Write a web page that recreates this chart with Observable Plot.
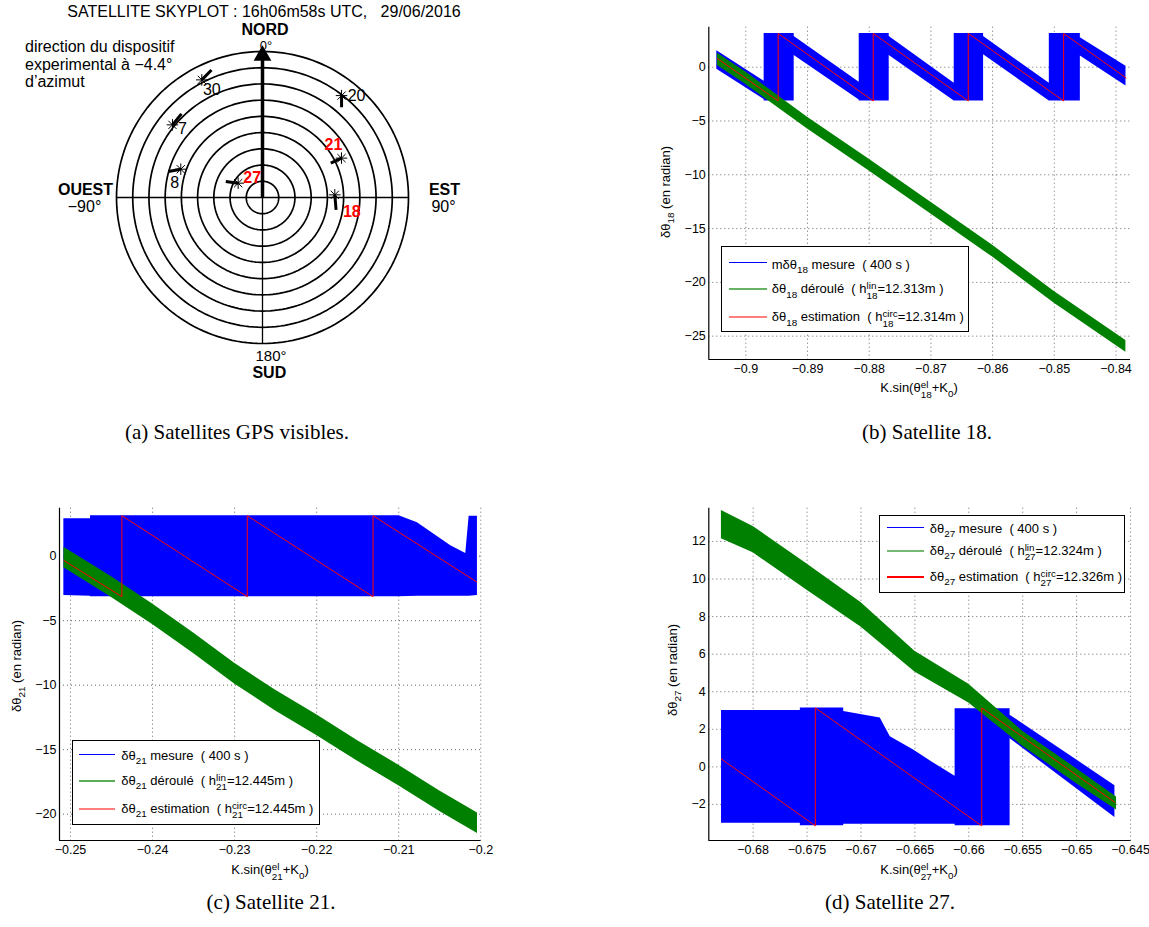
<!DOCTYPE html>
<html lang="fr">
<head>
<meta charset="utf-8">
<title>Satellites GPS visibles</title>
<script src="https://cdn.jsdelivr.net/npm/d3@7"></script>
<script src="https://cdn.jsdelivr.net/npm/@observablehq/plot@0.6"></script>
<style>
  html,body{margin:0;padding:0;background:#fff;}
  #fig{position:relative;width:1149px;height:927px;overflow:hidden;background:#fff;
       font-family:"Liberation Sans",Arial,Helvetica,sans-serif;color:#000;}
  #fig svg{position:absolute;max-width:none;}
  .txt{position:absolute;white-space:pre;line-height:1;font-size:16px;}
  .tight{line-height:0.8;}
  .b{font-weight:bold;}
  .cc{transform:translate(-50%,-50%);}
  .lc{transform:translate(0,-50%);}
  .cap{position:absolute;transform:translate(-50%,-50%);white-space:nowrap;line-height:1;
       font-family:"Liberation Serif","Times New Roman",serif;font-size:21px;}
  .ylab{position:absolute;white-space:nowrap;font-size:13px;line-height:1;transform:translate(-50%,-50%) rotate(-90deg);}
  .xlab{position:absolute;white-space:nowrap;font-size:13px;line-height:1;transform:translate(-50%,-50%);}
  .sb{font-size:0.76em;position:relative;top:0.42em;}
  .st{display:inline-block;vertical-align:middle;font-size:0.76em;line-height:0.92;text-align:left;position:relative;top:0.05em;}
  .st span{display:block;}
  .legend{position:absolute;background:#fff;border:1.5px solid #000;box-sizing:border-box;}
  .lrow{position:absolute;white-space:pre;font-size:13px;line-height:1;transform:translate(0,-50%);}
  .sw{position:absolute;}
</style>
</head>
<body>
<div id="fig"></div>
<script>
// ======================= DATA =======================
// ---- (a) Skyplot ----
const satIds = ["30", "20", "7", "8", "27", "21", "18"];
const satAz = [332.7, 37.8, 308.9, 289.1, 300.5, 63.5, 87.9];     // degrees
const satEl = [8.4, 10.5, 18.7, 36.7, 72.6, 35.6, 45.4];           // degrees
const tailAz = [338.2, 41.2, 315.9, 285.5, 293.6, 63.3, 99.5];
const tailEl = [5.3, 16.0, 18.2, 29.9, 65.3, 42.9, 44.0];
const satUsed = [false, false, false, false, true, true, true];
const ringElevations = [0, 10, 20, 30, 40, 50, 60, 70, 80];
const crossAzimuths = [0, 90];
const deviceAzimuth = 0;
const sideTexts = ["OUEST", "−90°", "EST", "90°"];
const sideBold = [true, false, true, false];

// ---- (b) Satellite 18 ----
const s18XTicks = [-0.9, -0.89, -0.88, -0.87, -0.86, -0.85, -0.84];
const s18XLabels = ["−0.9", "−0.89", "−0.88", "−0.87", "−0.86", "−0.85", "−0.84"];
const s18YTicks = [0, -5, -10, -15, -20, -25];
const s18YLabels = ["0", "−5", "−10", "−15", "−20", "−25"];
const s18MesX  = [-0.90470, -0.89703, -0.89703, -0.89216, -0.89216, -0.88162, -0.88162, -0.87676, -0.87676, -0.86622, -0.86622, -0.86146, -0.86146, -0.85081, -0.85081, -0.84578, -0.84578, -0.83838];
const s18MesLo = [-0.2, -3.0, -3.14, -3.14, 1.1, -3.05, -3.14, -3.14, 1.1, -3.14, -3.14, -3.14, 1.15, -3.14, -3.14, -3.14, 1.05, -1.75];
const s18MesHi = [1.54, -1.3, 3.14, 3.14, 2.85, -1.4, 3.14, 3.14, 2.85, -1.5, 3.14, 3.14, 2.85, -1.5, 3.14, 3.14, 2.75, 0.1];
const s18UnwX  = [-0.9046, -0.9, -0.89, -0.88, -0.87, -0.86, -0.85, -0.8384];
const s18UnwLo = [0.15, -1.6, -5.75, -9.65, -13.65, -17.65, -21.95, -26.5];
const s18UnwHi = [1.3, -0.45, -4.65, -8.55, -12.55, -16.55, -20.85, -25.4];
const s18EstX  = [-0.90459, -0.89476, -0.89476, -0.87935, -0.87935, -0.86395, -0.86395, -0.84849, -0.84849, -0.83838];
const s18EstY  = [0.80, -3.14, 3.14, -3.14, 3.14, -3.14, 3.14, -3.14, 3.14, -0.99];

// ---- (c) Satellite 21 ----
const s21XTicks = [-0.25, -0.24, -0.23, -0.22, -0.21, -0.2];
const s21XLabels = ["−0.25", "−0.24", "−0.23", "−0.22", "−0.21", "−0.2"];
const s21YTicks = [0, -5, -10, -15, -20];
const s21YLabels = ["0", "−5", "−10", "−15", "−20"];
const s21MesX  = [-0.25081, -0.24756, -0.24756, -0.20996, -0.20772, -0.20569, -0.20366, -0.20183, -0.20142, -0.20041];
const s21MesLo = [-3.05, -3.1, -3.14, -3.14, -3.1, -3.1, -3.1, -3.1, -3.1, -3.05];
const s21MesHi = [2.9, 2.9, 3.14, 3.14, 2.6, 1.7, 0.8, 0.2, 3.1, 3.1];
const s21UnwX  = [-0.2508, -0.245, -0.24, -0.235, -0.23, -0.225, -0.22, -0.215, -0.21, -0.205, -0.2004];
const s21UnwLo = [-0.9, -3.2, -5.3, -7.55, -9.9, -12.0, -13.9, -15.9, -17.8, -19.8, -21.5];
const s21UnwHi = [0.7, -1.6, -3.7, -5.95, -8.3, -10.4, -12.3, -14.3, -16.2, -18.2, -19.9];
const s21EstX  = [-0.25081, -0.24374, -0.24374, -0.22846, -0.22846, -0.21313, -0.21313, -0.20049];
const s21EstY  = [-0.33, -3.14, 3.14, -3.14, 3.14, -3.14, 3.14, -2.0];

// ---- (d) Satellite 27 ----
const s27XTicks = [-0.68, -0.675, -0.67, -0.665, -0.66, -0.655, -0.65, -0.645];
const s27XLabels = ["−0.68", "−0.675", "−0.67", "−0.665", "−0.66", "−0.655", "−0.65", "−0.645"];
const s27YTicks = [12, 10, 8, 6, 4, 2, 0, -2];
const s27YLabels = ["12", "10", "8", "6", "4", "2", "0", "−2"];
const s27MesX  = [-0.68293, -0.67562, -0.67562, -0.67160, -0.67160, -0.66821, -0.66728, -0.66512, -0.66327, -0.66127, -0.66127, -0.65617, -0.65617, -0.64645];
const s27MesLo = [-3.0, -3.0, -3.14, -3.14, -3.05, -3.05, -3.05, -3.05, -3.05, -3.05, -3.14, -3.14, 1.5, -2.7];
const s27MesHi = [3.0, 3.0, 3.14, 3.14, 2.95, 2.6, 1.6, 0.9, 0.2, -0.5, 3.1, 3.1, 2.75, -1.0];
const s27UnwX  = [-0.68294, -0.68, -0.675, -0.67, -0.665, -0.66, -0.655, -0.65, -0.6463];
const s27UnwLo = [12.15, 11.4, 9.4, 7.45, 5.05, 3.4, 1.1, -0.9, -2.3];
const s27UnwHi = [13.65, 12.8, 10.8, 8.75, 6.15, 4.4, 1.9, -0.1, -1.6];
const s27EstX  = [-0.68293, -0.67423, -0.67423, -0.65880, -0.65880, -0.64645];
const s27EstY  = [0.41, -3.14, 3.14, -3.14, 3.14, -1.89];

// ======================= LAYOUT / STYLE =======================
const FONT = '"Liberation Sans", Arial, Helvetica, sans-serif';
const BLUE = "#0000ff", GREEN = "#008000", RED = "#ff0000";
const fig = document.getElementById("fig");

function place(el, left, top) {
  el.style.left = left + "px"; el.style.top = top + "px"; fig.appendChild(el); return el;
}
function div(cls, html, left, top, extra) {
  const d = document.createElement("div");
  d.className = cls; d.innerHTML = html;
  if (extra) Object.assign(d.style, extra);
  return place(d, left, top);
}
const sub = s => `<span class="sb">${s}</span>`;
const stack = (sup, s) => `<span class="st"><span>${sup}</span><span>${s}</span></span>`;

// ======================= (a) SKYPLOT =======================
const rad = Math.PI / 180;
const polar = (az, el) => [(90 - el) * Math.sin(az * rad), (90 - el) * Math.cos(az * rad)];
const sats = satIds.map((id, i) => {
  const [x, y] = polar(satAz[i], satEl[i]);
  const [tx, ty] = polar(tailAz[i], tailEl[i]);
  return {id, x, y, tx, ty, used: satUsed[i]};
});
const ringPts = ringElevations.flatMap(el =>
  d3.range(0, 361, 2).map(a => { const [x, y] = polar(a, el); return {el, x, y}; }));
const crossLines = crossAzimuths.map(az => {
  const [x1, y1] = polar(az, 0), [x2, y2] = polar(az + 180, 0);
  return {x1, y1, x2, y2};
});
const [c0x, c0y] = polar(deviceAzimuth, 90);
const [ax, ay] = polar(deviceAzimuth, 0);
const arrowLine = [{x1: c0x, y1: c0y, x2: ax, y2: ay}];
// label anchor positions in skyplot units (layout only)
const sidePos = [[-109.1, 4.6], [-109.7, -5.9], [112.2, 4.6], [111.6, -5.9]];
const sides = sideTexts.map((t, i) => ({t, bold: sideBold[i], x: sidePos[i][0], y: sidePos[i][1]}));
const labelOffset = {"30": [10, 10], "20": [15, 0], "7": [10, 4], "8": [-6, 14], "27": [14, -5], "21": [-8, -13], "18": [17, 17]};

const sky = Plot.plot({
  width: 560, height: 420, margin: 0,
  style: {fontFamily: FONT, fontSize: "16px", background: "transparent", color: "#000"},
  x: {domain: [-90, 90], range: [116, 408], axis: null},
  y: {domain: [-90, 90], range: [343, 51], axis: null},
  marks: [
    Plot.line(ringPts, {x: "x", y: "y", z: "el", stroke: "#000", strokeWidth: 1.7}),
    Plot.link(crossLines, {x1: "x1", y1: "y1", x2: "x2", y2: "y2", stroke: "#000", strokeWidth: 1.3}),
    Plot.link(arrowLine, {x1: "x1", y1: "y1", x2: "x2", y2: "y2", stroke: "#000", strokeWidth: 3.5}),
    Plot.dot([{x: ax, y: ay}], {x: "x", y: "y", symbol: "triangle", r: 6.6, fill: "#000", stroke: "none", dy: 4}),
    Plot.link(sats, {x1: "x", y1: "y", x2: "tx", y2: "ty", stroke: "#000", strokeWidth: 3}),
    Plot.dot(sats, {x: "x", y: "y", symbol: "plus", r: 3.8, stroke: "#000", strokeWidth: 1}),
    Plot.dot(sats, {x: "x", y: "y", symbol: "times", r: 3.8, stroke: "#000", strokeWidth: 1}),
    ...sats.map(s => Plot.text([s], {
      x: "x", y: "y", text: "id", dx: labelOffset[s.id][0], dy: labelOffset[s.id][1],
      fill: s.used ? RED : "#000", fontWeight: s.used ? "bold" : "normal", fontSize: 16
    })),
    Plot.text(sides.filter(d => d.bold), {x: "x", y: "y", text: "t", fontWeight: "bold", fontSize: 16, fill: "#000"}),
    Plot.text(sides.filter(d => !d.bold), {x: "x", y: "y", text: "t", fontSize: 16, fill: "#000"})
  ]
});
place(sky, 0, 0);

div("txt tight cc", "SATELLITE SKYPLOT : 16h06m58s UTC,   29/06/2016", 264, 11.5);
div("txt tight cc b", "NORD", 265, 29.5);
div("txt tight cc", "0°", 266, 46, {fontSize: "13px"});
div("txt tight cc", "180°", 271, 355.5, {fontSize: "15px"});
div("txt tight cc b", "SUD", 269.3, 373);
div("txt lc", "direction du dispositif", 25, 47);
div("txt lc", "experimental à −4.4°", 25, 65);
div("txt lc", "d’azimut", 25, 82);

// ======================= PHASE PANELS =======================
function phasePanel(p) {
  const mes = p.mesX.map((x, i) => ({x, lo: p.mesLo[i], hi: p.mesHi[i]}));
  const unw = p.unwX.map((x, i) => ({x, lo: p.unwLo[i], hi: p.unwHi[i]}));
  const est = p.estX.map((x, i) => ({x, y: p.estY[i]}));
  const xl = new Map(p.xTicks.map((t, i) => [t, p.xLabels[i]]));
  const yl = new Map(p.yTicks.map((t, i) => [t, p.yLabels[i]]));
  const grid = {stroke: "#000", strokeOpacity: 0.6, strokeWidth: 1, strokeDasharray: "1,3"};
  return Plot.plot({
    width: p.width, height: p.height,
    marginLeft: p.ml, marginRight: p.mr, marginTop: p.mt, marginBottom: p.mb,
    style: {fontFamily: FONT, fontSize: "12.5px", background: "transparent", color: "#000", overflow: "visible"},
    x: {domain: p.xDomain},
    y: {domain: p.yDomain},
    marks: [
      Plot.gridX(p.xTicks, grid),
      Plot.gridY(p.yTicks, grid),
      Plot.areaY(mes, {x: "x", y1: "lo", y2: "hi", fill: BLUE}),
      Plot.areaY(unw, {x: "x", y1: "lo", y2: "hi", fill: GREEN}),
      Plot.line(est, {x: "x", y: "y", stroke: RED, strokeWidth: 1}),
      Plot.ruleX([p.xDomain[0]], {stroke: "#000", strokeWidth: 1.2}),
      Plot.ruleY([p.yDomain[0]], {stroke: "#000", strokeWidth: 1.2}),
      Plot.axisX(p.xTicks, {tickSize: 0, tickPadding: 5, label: null, tickFormat: d => xl.get(d)}),
      Plot.axisY(p.yTicks, {tickSize: 0, tickPadding: 3, label: null, tickFormat: d => yl.get(d)})
    ]
  });
}

function legend(box, rows, colors, opac) {
  const L = document.createElement("div");
  L.className = "legend";
  Object.assign(L.style, {width: box.w + "px", height: box.h + "px"});
  rows.forEach((html, i) => {
    const sw = document.createElement("div");
    sw.className = "sw";
    const th = i === 0 ? 1 : 2;
    Object.assign(sw.style, {left: Math.round(box.sx0) + "px", width: Math.round(box.sx1 - box.sx0) + "px",
      top: Math.round(box.rowY[i] - th / 2) + "px", height: th + "px", background: colors[i], opacity: opac[i]});
    L.appendChild(sw);
    const t = document.createElement("div");
    t.className = "lrow"; t.innerHTML = html;
    Object.assign(t.style, {left: box.tx + "px", top: (box.rowY[i] + 1) + "px"});
    L.appendChild(t);
  });
  return place(L, box.left, box.top);
}

// ---- (b) ----
const pb = phasePanel({
  width: 509, height: 400, ml: 68.3, mr: 19, mt: 26.7, mb: 41,
  xDomain: [-0.9060, -0.83765], yDomain: [-27.17, 3.72],
  xTicks: s18XTicks, xLabels: s18XLabels, yTicks: s18YTicks, yLabels: s18YLabels,
  mesX: s18MesX, mesLo: s18MesLo, mesHi: s18MesHi,
  unwX: s18UnwX, unwLo: s18UnwLo, unwHi: s18UnwHi,
  estX: s18EstX, estY: s18EstY
});
place(pb, 640, 0);
div("ylab", `δθ${sub("18")} (en radian)`, 665, 192);
div("xlab", `K.sin(θ${stack("el", "18")}+K${sub("0")})`, 919, 389);
legend({left: 720.7, top: 246, w: 248, h: 86, sx0: 6.5, sx1: 44, tx: 50, rowY: [15.5, 42, 70]}, [
  `mδθ${sub("18")} mesure  ( 400 s )`,
  `δθ${sub("18")} déroulé  ( h${stack("lin", "18")}=12.313m )`,
  `δθ${sub("18")} estimation  ( h${stack("circ", "18")}=12.314m )`
], [BLUE, GREEN, RED], [1, 0.6, 0.5]);

// ---- (c) ----
const pc = phasePanel({
  width: 500, height: 420, ml: 59, mr: 19.3, mt: 37.7, mb: 50,
  xDomain: [-0.25134, -0.19995], yDomain: [-22.04, 3.72],
  xTicks: s21XTicks, xLabels: s21XLabels, yTicks: s21YTicks, yLabels: s21YLabels,
  mesX: s21MesX, mesLo: s21MesLo, mesHi: s21MesHi,
  unwX: s21UnwX, unwLo: s21UnwLo, unwHi: s21UnwHi,
  estX: s21EstX, estY: s21EstY
});
place(pc, 0, 470);
div("ylab", `δθ${sub("21")} (en radian)`, 15.5, 666);
div("xlab", `K.sin(θ${stack("el", "21")}+K${sub("0")})`, 270, 871);
legend({left: 71.7, top: 740, w: 248, h: 85, sx0: 6, sx1: 41.5, tx: 48.5, rowY: [13, 39.5, 67.5]}, [
  `δθ${sub("21")} mesure  ( 400 s )`,
  `δθ${sub("21")} déroulé  ( h${stack("lin", "21")}=12.445m )`,
  `δθ${sub("21")} estimation  ( h${stack("circ", "21")}=12.445m )`
], [BLUE, GREEN, RED], [1, 0.65, 0.5]);

// ---- (d) ----
const pd = phasePanel({
  width: 509, height: 420, ml: 68.3, mr: 18.3, mt: 37.7, mb: 50,
  xDomain: [-0.68411, -0.64494], yDomain: [-3.92, 13.77],
  xTicks: s27XTicks, xLabels: s27XLabels, yTicks: s27YTicks, yLabels: s27YLabels,
  mesX: s27MesX, mesLo: s27MesLo, mesHi: s27MesHi,
  unwX: s27UnwX, unwLo: s27UnwLo, unwHi: s27UnwHi,
  estX: s27EstX, estY: s27EstY
});
place(pd, 640, 470);
div("ylab", `δθ${sub("27")} (en radian)`, 672, 670);
div("xlab", `K.sin(θ${stack("el", "27")}+K${sub("0")})`, 919, 871);
legend({left: 879.3, top: 515, w: 246, h: 78, sx0: 6.5, sx1: 43.5, tx: 49.5, rowY: [11, 34.5, 60.5]}, [
  `δθ${sub("27")} mesure  ( 400 s )`,
  `δθ${sub("27")} déroulé  ( h${stack("lin", "27")}=12.324m )`,
  `δθ${sub("27")} estimation  ( h${stack("circ", "27")}=12.326m )`
], [BLUE, GREEN, RED], [1, 0.55, 1]);

// ======================= CAPTIONS =======================
div("cap", "(a) Satellites GPS visibles.", 237, 432);
div("cap", "(b) Satellite 18.", 927, 432);
div("cap", "(c) Satellite 21.", 271, 902);
div("cap", "(d) Satellite 27.", 890, 902);
</script>
</body>
</html>
